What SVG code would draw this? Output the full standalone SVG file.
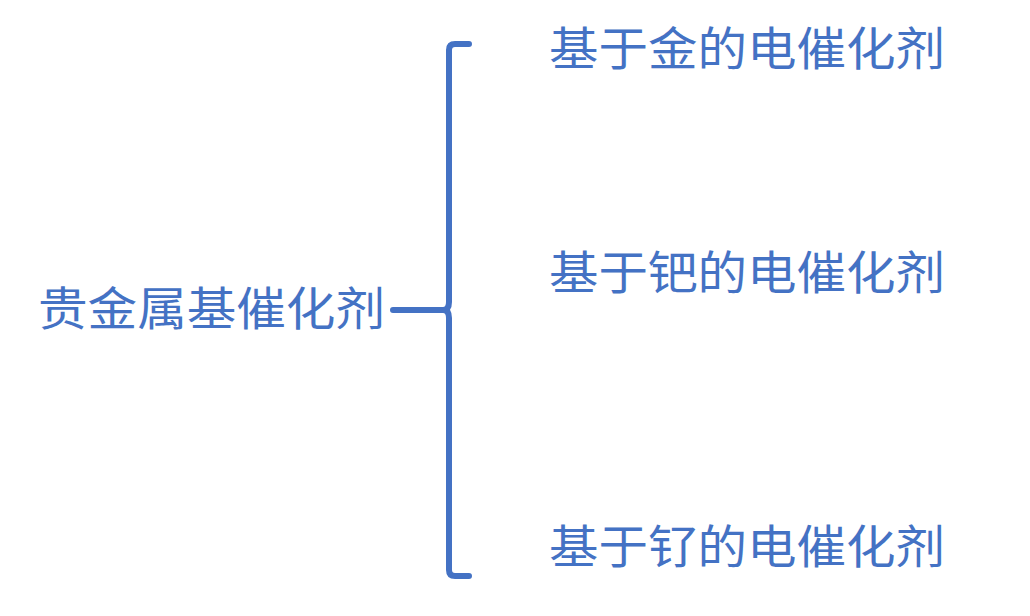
<svg xmlns="http://www.w3.org/2000/svg" width="1030" height="616" viewBox="0 0 1030 616">
<style>
text{font-family:"Noto Sans CJK SC","Noto Sans",sans-serif;font-size:46px;fill:#4472C4}
.b{fill:none;stroke:#4472C4;stroke-width:6;stroke-linecap:round;stroke-linejoin:round}
</style>
<rect width="1030" height="616" fill="#fff"/>
<g id="root"><text x="38" y="325" textLength="347" lengthAdjust="spacingAndGlyphs">贵金属基催化剂</text></g>
<g id="n1"><text x="549" y="65" textLength="396" lengthAdjust="spacingAndGlyphs">基于金的电催化剂</text></g>
<g id="n2"><text x="549" y="289" textLength="396" lengthAdjust="spacingAndGlyphs">基于钯的电催化剂</text></g>
<g id="n3"><text x="549" y="563" textLength="396" lengthAdjust="spacingAndGlyphs">基于钌的电催化剂</text></g>
<g id="connectors">
<path class="b" d="M469 44 H455 Q449 44 449 50 V302 Q449 310 443 310 H393 M443 310 Q449 310 449 318 V570 Q449 576 455 576 H469"/>
</g>
</svg>
